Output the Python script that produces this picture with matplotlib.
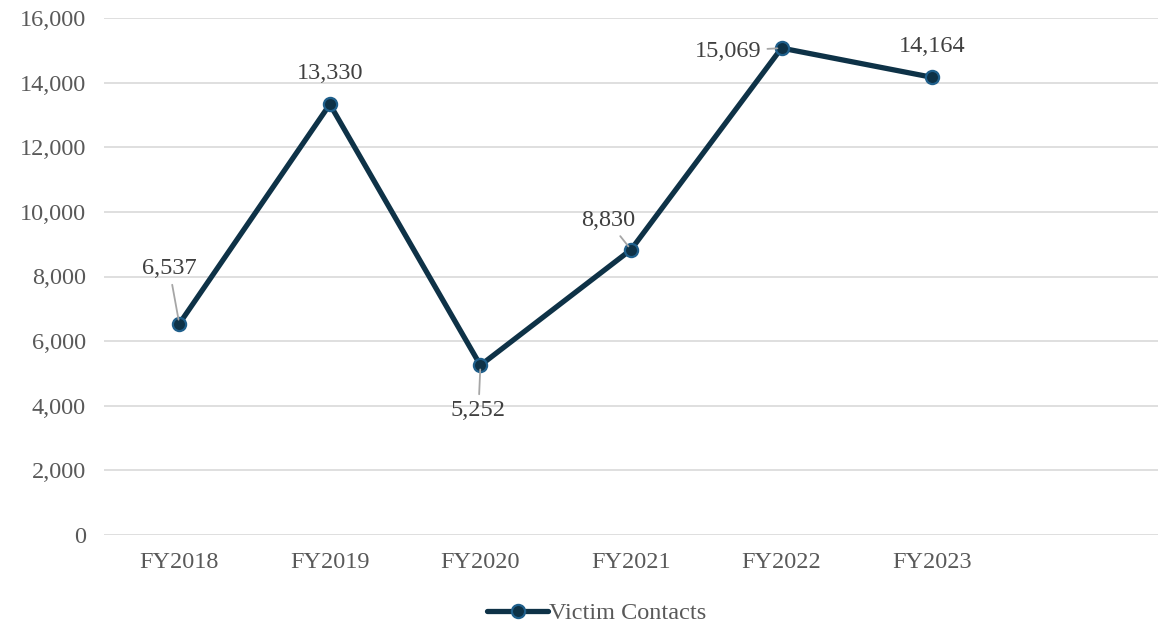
import matplotlib.pyplot as plt

plt.rcParams['font.family'] = ['Liberation Serif', 'DejaVu Serif']

years = ["FY2018", "FY2019", "FY2020", "FY2021", "FY2022", "FY2023"]
contacts = [6537, 13330, 5252, 8830, 15069, 14164]
# label offsets in pixels (dx, dy) and whether a leader line is drawn
label_pos = [(-10, 55, True), (0, 31, False), (-2, -45, True),
             (-23, 29, True), (-53, -3, True), (0, 31, False)]

fig = plt.figure(figsize=(11.75, 6.28), dpi=100)
ax = fig.add_axes([104 / 1175, 93 / 628, 1054 / 1175, 517 / 628])

x = list(range(len(years)))
line, = ax.plot(x, contacts, color="#0e3247", lw=3.8, marker="o", ms=9.5,
                mfc="#0e3247", mec="#1f5f8b", mew=1.6, label="Victim Contacts",
                solid_capstyle="round", zorder=3)

for xi, v, (dx, dy, leader) in zip(x, contacts, label_pos):
    props = None
    if leader:
        props = dict(arrowstyle="-", color="#a6a6a6", lw=1.3, shrinkA=2, shrinkB=3)
    ax.annotate(f"{v:,}", (xi, v), xytext=(dx, dy), textcoords="offset pixels",
                ha="center", va="center", fontsize=17.5, color="#404040",
                arrowprops=props, zorder=4)

ax.set_xlim(-0.5, 6.5)
ax.set_ylim(0, 16000)
ax.set_yticks(range(0, 16001, 2000))
ax.set_yticklabels([f"{t:,}" for t in range(0, 16001, 2000)])
ax.set_xticks(x)
ax.set_xticklabels(years)
ax.tick_params(length=0, labelsize=17.5, labelcolor="#595959")
ax.tick_params(axis="y", pad=13)
ax.tick_params(axis="x", pad=12)
ax.grid(axis="y", color="#d9d9d9", lw=1.2)
ax.set_axisbelow(True)
for s in ax.spines.values():
    s.set_visible(False)

fig.legend(handles=[line], loc="center", bbox_to_anchor=(597 / 1175, 1 - 613 / 628),
           frameon=False, fontsize=17.5, labelcolor="#595959", handlelength=2.5,
           handletextpad=0.05)

fig.savefig("out.png", dpi=100)
